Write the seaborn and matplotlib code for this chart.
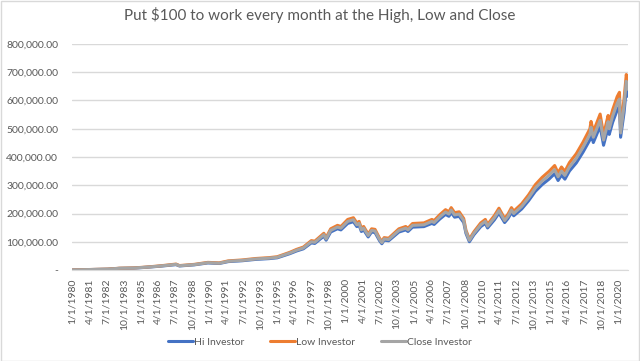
import matplotlib
matplotlib.use("Agg")
import matplotlib.pyplot as plt
import matplotlib.patches as mpatches
import seaborn as sns
import pandas as pd

# Monthly readings (thousands of $) taken off the chart at the turning points
dates = [
    "1980-01", "1981-06", "1982-08", "1983-06", "1984-07", "1985-06", "1986-06",
    "1987-08", "1987-11", "1988-12", "1989-12", "1990-10", "1991-06", "1992-06",
    "1993-06", "1994-06", "1995-01", "1995-12", "1996-06", "1996-12", "1997-07",
    "1997-10", "1998-06", "1998-08", "1998-12", "1999-06", "1999-09", "2000-03",
    "2000-08", "2000-11", "2001-01", "2001-03", "2001-05", "2001-09", "2001-12",
    "2002-03", "2002-07", "2002-09", "2002-11", "2003-03", "2003-12", "2004-06",
    "2004-08", "2004-12", "2005-10", "2006-05", "2006-07", "2006-12", "2007-05",
    "2007-08", "2007-10", "2008-01", "2008-05", "2008-09", "2008-11", "2009-02",
    "2009-06", "2009-12", "2010-04", "2010-06", "2010-12", "2011-04", "2011-09",
    "2011-12", "2012-03", "2012-05", "2012-12", "2013-06", "2013-12", "2014-06",
    "2014-12", "2015-05", "2015-08", "2015-11", "2016-02", "2016-06", "2016-12",
    "2017-06", "2017-12", "2018-01", "2018-03", "2018-09", "2018-12", "2019-04",
    "2019-05", "2019-08", "2019-12", "2020-02", "2020-03", "2020-06", "2020-08",
    "2020-09",
]
close_k = [
    0.1, 1.8, 3, 6, 7, 10, 14,
    20, 15, 19, 26, 24, 31, 34,
    39, 42, 45, 60, 70, 78, 100,
    98, 125, 110, 140, 152, 148, 172,
    178, 160, 165, 142, 148, 122, 140,
    138, 108, 97, 110, 108, 140, 148,
    142, 158, 160, 172, 168, 188, 205,
    198, 212, 195, 198, 175, 135, 105,
    130, 160, 172, 155, 185, 210, 175,
    190, 212, 200, 225, 255, 290, 315,
    335, 355, 330, 350, 335, 365, 395,
    435, 480, 505, 470, 530, 460, 525,
    500, 545, 590, 605, 485, 580, 668,
    640,
]
hi_k = [
    0.1, 1.7, 2.8, 5.7, 6.7, 9.6, 13.4,
    19, 14.3, 18.2, 25, 23, 29.8, 32.7,
    37.5, 40.3, 43.2, 57.7, 67.3, 75, 96,
    94, 120, 105.5, 134.5, 146, 142, 165,
    171, 153.6, 158.5, 136.3, 142, 117, 134.5,
    132.5, 103.6, 93, 105.6, 103.6, 134.4, 142,
    136.3, 151.7, 153.6, 165, 161.3, 180.5, 196.8,
    190, 203.5, 187, 190, 168, 129.6, 100,
    124.8, 153.6, 165, 148.8, 177.6, 201.6, 168,
    182.4, 203.5, 192, 216, 244.8, 278.4, 302.4,
    321.6, 340.8, 316.8, 336, 321.6, 350.4, 379,
    417.6, 460.8, 485, 451.2, 509, 441.6, 504,
    480, 523, 566, 580, 470, 556, 642,
    615,
]
low_k = [
    0.1, 1.9, 3.2, 6.3, 7.4, 10.5, 14.7,
    21, 15.7, 19.9, 27, 25.2, 32.4, 35.5,
    40.7, 43.8, 47, 62.5, 73, 81.3, 104,
    102, 130, 114.5, 145.8, 158, 154, 179,
    185, 166.6, 172, 148, 154, 127, 145.8,
    143.8, 112.5, 101, 114.6, 112.5, 145.8, 154,
    148, 164.6, 166.7, 179, 175, 195.8, 213.5,
    206, 220.8, 203, 206, 182.3, 140.6, 109.4,
    135.4, 166.7, 179, 161.5, 192.7, 218.8, 182.3,
    198, 220.8, 208.3, 234.4, 265.6, 302, 328,
    349, 369.8, 343.8, 364.6, 349, 380.2, 411.5,
    453, 500, 526, 489.6, 552, 479, 547,
    521, 567, 614, 629, 505, 605, 692,
    665,
]
series_names = ["Hi Investor", "Low Investor", "Close Investor"]
colors = ["#4472C4", "#ED7D31", "#A5A5A5"]

start_year = 1980
n_months = 489  # 1/1980 .. 9/2020 on the category axis


def month_index(s):
    y, m = s.split("-")
    return (int(y) - start_year) * 12 + int(m) - 1


rows = []
for name, vals in zip(series_names, [hi_k, low_k, close_k]):
    for d, v in zip(dates, vals):
        rows.append({"month": month_index(d), "value": v * 1000, "series": name})
df = pd.DataFrame(rows)

sns.set_style("white")
plt.rcParams["font.family"] = ["Lato", "DejaVu Sans"]
text_grey = "#595959"
grid_grey = "#D9D9D9"

fig = plt.figure(figsize=(6.4, 3.61), dpi=100)
ax = fig.add_axes([72 / 640, 1 - 270 / 361, 556 / 640, 226 / 361])

sns.lineplot(data=df, x="month", y="value", hue="series", hue_order=series_names,
             palette=colors, linewidth=2.2, ax=ax, legend=True)

ax.set_xlim(-0.5, n_months - 0.5)
ax.set_ylim(0, 800000)
yt = list(range(0, 800001, 100000))
ax.set_yticks(yt)
ax.set_yticklabels(["-" if v == 0 else f"{v:,.2f}" for v in yt])
xt = list(range(0, n_months, 15))
ax.set_xticks(xt)
ax.set_xticklabels([f"{(t % 12) + 1}/1/{start_year + t // 12}" for t in xt], rotation=90)
ax.tick_params(axis="both", length=0, labelsize=7.5, labelcolor=text_grey)
ax.tick_params(axis="y", pad=10)
ax.tick_params(axis="x", pad=6)
ax.grid(axis="y", color=grid_grey, linewidth=1)
ax.set_axisbelow(True)
for s in ["top", "right", "left"]:
    ax.spines[s].set_visible(False)
ax.spines["bottom"].set_color(grid_grey)
ax.set_xlabel("")
ax.set_ylabel("")

fig.suptitle("Put $100 to work every month at the High, Low and Close",
             y=1 - 15 / 361, va="center", fontsize=11, fontweight="normal",
             color=text_grey)

handles, labels = ax.get_legend_handles_labels()
ax.legend(handles, labels, loc="center", bbox_to_anchor=(0.5, 19 / 361),
          bbox_transform=fig.transFigure, ncol=3, frameon=False, fontsize=7.5,
          labelcolor=text_grey, handlelength=2.4, handletextpad=0.1, columnspacing=2.5)

fig.patches.append(mpatches.Rectangle((0.5 / 640, 0.5 / 361), 638.5 / 640, 359.5 / 361,
                                      transform=fig.transFigure, fill=False,
                                      edgecolor=grid_grey, linewidth=1))

fig.savefig("out.png", dpi=100)
